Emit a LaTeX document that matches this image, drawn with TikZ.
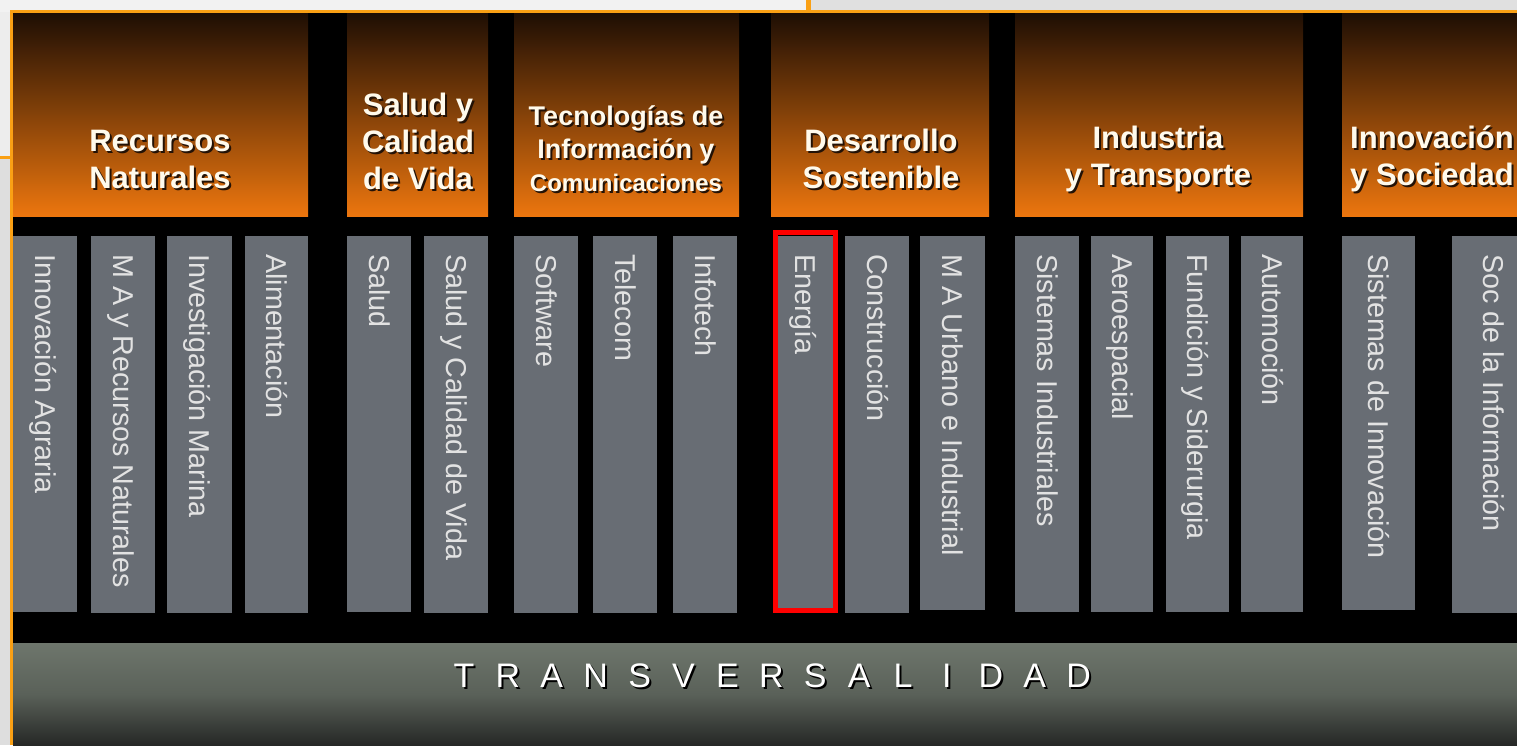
\documentclass[tikz,border=0pt]{standalone}
\usepackage{fontspec}
\setmainfont{Liberation Sans}
\definecolor{hdtop}{RGB}{30,14,4}
\definecolor{hdbot}{RGB}{236,118,14}
\definecolor{hdwhite}{RGB}{255,250,236}
\definecolor{hdshade}{RGB}{35,18,6}
\definecolor{bargray}{RGB}{104,109,116}
\definecolor{barlight}{RGB}{226,226,226}
\definecolor{slideorange}{RGB}{250,160,20}
\definecolor{bandtop}{RGB}{110,118,108}
\definecolor{bandmid}{RGB}{90,97,89}
\definecolor{bandbot}{RGB}{38,40,38}
\tikzset{
	header/.style = {top color=hdtop, bottom color=hdbot},
	hdtext/.style = {align=center, text=hdwhite, inner sep=0pt},
	hdshadow/.style = {align=center, text=hdshade, inner sep=0pt, xshift=2pt, yshift=-2pt},
	bar/.style = {fill=bargray},
	bartext/.style = {rotate=-90, anchor=base west, inner sep=0pt, text=barlight, font=\fontsize{28.7}{28.7}\selectfont},
	band/.style = {top color=bandtop, bottom color=bandbot, middle color=bandmid},
	bandletter/.style = {inner sep=0pt, text=white, font=\fontsize{34}{34}\selectfont},
	bandshadow/.style = {inner sep=0pt, text=black, font=\fontsize{34}{34}\selectfont, xshift=2pt, yshift=-2pt},
	redbox/.style = {draw=red, line width=5pt}
}

\begin{document}
\begin{tikzpicture}[x=1pt, y=-1pt]
	\useasboundingbox (0,0) rectangle (1517,745);
	\clip (0,0) rectangle (1517,745);
	% slide background
	\fill [color=black!5] (0,0) rectangle (808,12);
	\fill [color=black!12] (808,0) rectangle (1517,12);
	\fill [color=black!7] (0,12) rectangle (12,156);
	\fill [color=black!13] (0,156) rectangle (12,745);
	\draw [slideorange, line width=3pt] (0,157) -- (12,157);
	\draw [slideorange, line width=5pt] (808,0) -- (808,11);
	\fill [color=black] (12,11) rectangle (1517,745);
	\draw [slideorange, line width=2.5pt] (11.5,745) -- (11.5,11.5) -- (1517,11.5);
	% headers
	\foreach \xa/\xb in {13/308, 347/488, 514/739, 771/989, 1015/1303, 1342/1560}
	\shade [header] (\xa,13) rectangle (\xb,216);
	\foreach \name/\cx/\cy/\fs/\bs/\txt in {hRN/160/159/31/37/{Recursos\\Naturales},
		hSV/418/141/31/37/{Salud y\\Calidad\\de Vida},
		hTI/626/149/27/33/{Tecnologías de\\Información y\\{\fontsize{24}{33}\selectfont Comunicaciones}},
		hDS/881/159/31/37/{Desarrollo\\Sostenible},
		hIT/1158/159/31/37/{Industria\\y Transporte},
		hIS/1432/159/31/37/{Innovación\\y Sociedad}}
	{
		\node [hdshadow, font=\bfseries\fontsize{\fs}{\bs}\selectfont] (\name-s) at (\cx,\cy) {\txt};
		\node [hdtext, font=\bfseries\fontsize{\fs}{\bs}\selectfont] (\name) at (\cx,\cy) {\txt};
	}
	% bars
	\foreach \name/\xa/\xb/\yb/\txt in {b1/13/77/612/{Innovación Agraria},
		b2/91/155/613/{M A y Recursos Naturales},
		b3/167/232/613/{Investigación Marina},
		b4/245/308/613/{Alimentación},
		b5/347/411/612/{Salud},
		b6/424/488/613/{Salud y Calidad de Vida},
		b7/514/578/613/{Software},
		b8/593/657/613/{Telecom},
		b9/673/737/613/{Infotech},
		b10/778/833/608/{Energía},
		b11/845/909/613/{Construcción},
		b12/920/985/610/{M A Urbano e Industrial},
		b13/1015/1079/612/{Sistemas Industriales},
		b14/1091/1153/612/{Aeroespacial},
		b15/1166/1229/612/{Fundición y Siderurgia},
		b16/1241/1303/612/{Automoción},
		b17/1342/1415/610/{Sistemas de Innovación},
		b18/1452/1534/613/{Soc de la Información}}
	{
		\fill [bar] (\xa,236) rectangle (\xb,\yb);
		\node [bartext] (\name) at ({(\xa+\xb)/2-10},254) {\txt};
	}
	\draw [redbox] (775,232.5) rectangle (835.5,610);
	% transversalidad
	\shade [band] (13,643) rectangle (1517,745);
	\foreach \l [count=\i from 0] in {T,R,A,N,S,V,E,R,S,A,L,I,D,A,D}
	{
		\node [bandshadow] (ts\i) at ({464+43.9*\i},676) {\l};
		\node [bandletter] (t\i) at ({464+43.9*\i},676) {\l};
	}
\end{tikzpicture}
\end{document}
